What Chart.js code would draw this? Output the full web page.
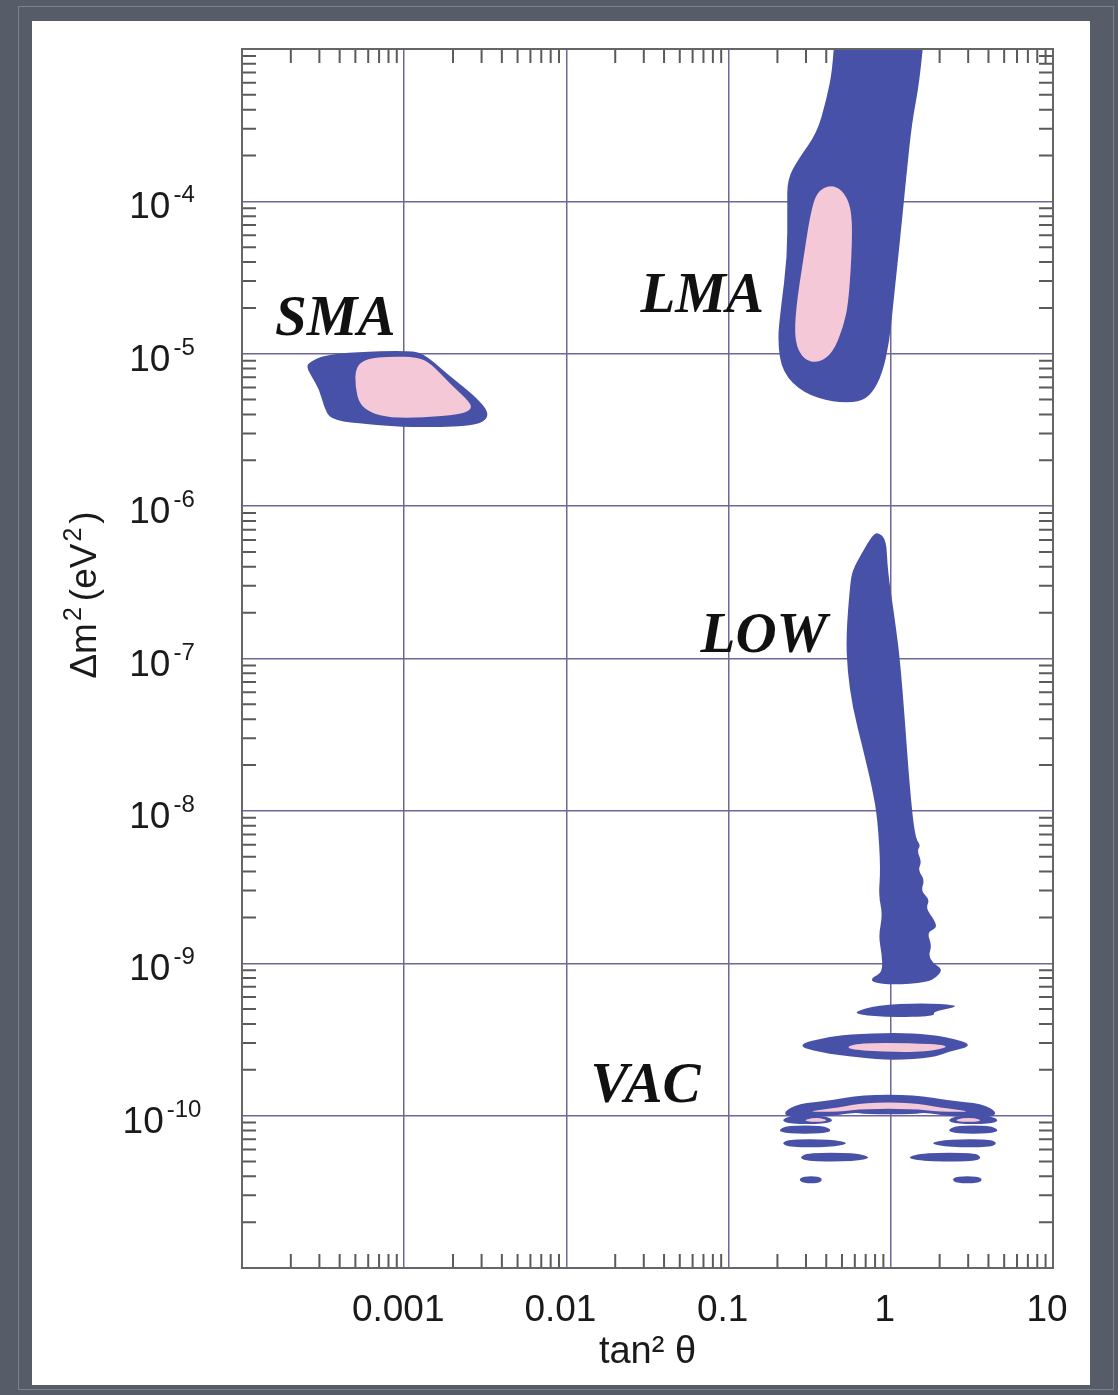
<!DOCTYPE html>
<html>
<head>
<meta charset="utf-8">
<script src="https://cdn.jsdelivr.net/npm/chart.js@4.4.1/dist/chart.umd.min.js"></script>
<style>
html, body { margin: 0; padding: 0; }
body { width: 1118px; height: 1395px; background: #565d69; position: relative; overflow: hidden; }
#frame { position: absolute; left: 18px; top: 6px; width: 1096px; height: 1384px; border: 1px solid #7d838e; box-sizing: border-box; }
#panel { position: absolute; left: 32px; top: 21px; width: 1058px; height: 1364px; background: #fff; }
canvas { display: block; }
</style>
</head>
<body>
<div id="frame"></div>
<div id="panel"><canvas id="chart" width="1058" height="1364" style="width:1058px;height:1364px"></canvas></div>
<script>
// axis ticks
const xTickValues = [1e-4, 1e-3, 1e-2, 1e-1, 1, 10];
const xTickLabels = ['', '0.001', '0.01', '0.1', '1', '10'];
const yGridValues = [1e-11, 1e-10, 1e-9, 1e-8, 1e-7, 1e-6, 1e-5, 1e-4, 1e-3];
const yLabelValues = [1e-10, 1e-9, 1e-8, 1e-7, 1e-6, 1e-5, 1e-4];
const yLabelExps = ['-10', '-9', '-8', '-7', '-6', '-5', '-4'];

// allowed regions, [tan^2 theta, delta m^2] outlines
const smaOuter = [[2.6e-4,8.8e-6],[3.2e-4,9.8e-6],[5.1e-4,1.03e-5],[9.8e-4,1.05e-5],[1.3e-3,1.02e-5],[1.8e-3,7.5e-6],[2.6e-3,5.5e-6],[3.2e-3,4.4e-6],[3.3e-3,3.8e-6],[2.8e-3,3.4e-6],[1.7e-3,3.3e-6],[9.8e-4,3.3e-6],[5.1e-4,3.5e-6],[3.5e-4,3.7e-6],[3.2e-4,4.5e-6],[3.0e-4,5.8e-6],[2.7e-4,7.0e-6],[2.5e-4,8.2e-6]];
const smaInner = [[5.0e-4,8.2e-6],[5.9e-4,9.3e-6],[8.2e-4,9.6e-6],[1.2e-3,9.5e-6],[1.45e-3,8.7e-6],[1.9e-3,6.4e-6],[2.55e-3,4.8e-6],[2.6e-3,4.3e-6],[2.2e-3,4.0e-6],[1.3e-3,3.8e-6],[8.2e-4,3.8e-6],[6.2e-4,4.1e-6],[5.3e-4,4.7e-6],[5.0e-4,6.0e-6]];
const lmaOuter = [[0.46,2e-3],[0.44,7.6e-4],[0.40,4.6e-4],[0.35,2.8e-4],[0.27,1.9e-4],[0.23,1.4e-4],[0.23,9.2e-5],[0.23,4.3e-5],[0.21,2.0e-5],[0.20,1.2e-5],[0.215,7.5e-6],[0.29,5.5e-6],[0.44,4.8e-6],[0.64,4.8e-6],[0.77,5.5e-6],[0.89,7.5e-6],[0.98,1.2e-5],[1.03,2.0e-5],[1.14,5.6e-5],[1.25,1.5e-4],[1.35,3.3e-4],[1.51,6.2e-4],[1.67,2e-3]];
const lmaInner = [[0.42,1.28e-4],[0.50,1.2e-4],[0.57,9.2e-5],[0.58,5.6e-5],[0.55,2.2e-5],[0.51,1.5e-5],[0.44,1.02e-5],[0.36,8.7e-6],[0.29,9.1e-6],[0.255,1.2e-5],[0.26,2.0e-5],[0.29,4.3e-5],[0.32,8.4e-5],[0.35,1.15e-4]];
const lowOuter = [[0.83,6.8e-7],[0.94,6.0e-7],[0.955,3.8e-7],[1.06,1.8e-7],[1.14,9.8e-8],[1.22,4.0e-8],[1.31,1.4e-8],[1.41,6.7e-9],[1.53,5.9e-9],[1.45,5.5e-9],[1.55,4.6e-9],[1.47,4.1e-9],[1.62,3.5e-9],[1.53,3.0e-9],[1.74,2.6e-9],[1.64,2.3e-9],[1.87,1.9e-9],[1.92,1.7e-9],[1.67,1.6e-9],[1.79,1.3e-9],[1.71,1.13e-9],[1.82,1.0e-9],[2.09,9.1e-10],[1.92,8.1e-10],[1.67,7.5e-10],[1.03,7.2e-10],[0.77,7.5e-10],[0.76,8.0e-10],[0.89,8.7e-10],[0.88,1.16e-9],[0.84,1.5e-9],[0.89,2.1e-9],[0.84,2.8e-9],[0.865,4.1e-9],[0.83,8.7e-9],[0.77,1.4e-8],[0.67,2.6e-8],[0.58,4.8e-8],[0.54,8.4e-8],[0.53,1.4e-7],[0.56,3.0e-7],[0.58,3.8e-7],[0.67,5.0e-7],[0.76,6.3e-7]];
const lowIsland = [[0.60,4.8e-10],[0.82,5.3e-10],[1.58,5.5e-10],[2.55,5.3e-10],[2.41,5.1e-10],[1.82,4.8e-10],[1.87,4.5e-10],[0.99,4.4e-10],[0.64,4.6e-10]];
const vacUpperOuter = [[0.26,2.9e-10],[0.40,3.3e-10],[0.64,3.45e-10],[1.31,3.5e-10],[2.21,3.3e-10],[3.30,2.9e-10],[2.21,2.6e-10],[1.82,2.4e-10],[1.03,2.3e-10],[0.64,2.4e-10],[0.36,2.6e-10]];
const vacUpperInner = [[0.52,2.8e-10],[0.64,3.0e-10],[1.31,3.0e-10],[2.31,2.9e-10],[2.0,2.7e-10],[1.31,2.6e-10],[0.64,2.67e-10]];
const vacArch = [[0.215,1.05e-10],[0.27,1.2e-10],[0.42,1.25e-10],[0.66,1.37e-10],[1.41,1.37e-10],[2.31,1.25e-10],[3.64,1.2e-10],[4.57,1.05e-10],[4.08,9.65e-11],[2.48,9.8e-11],[1.62,1.05e-10],[1.41,1.02e-10],[0.69,1.02e-10],[0.60,1.05e-10],[0.39,9.8e-11],[0.24,9.65e-11]];
const vacArchInner = [[0.29,1.06e-10],[0.48,1.13e-10],[0.69,1.22e-10],[1.35,1.22e-10],[2.0,1.13e-10],[3.30,1.06e-10],[2.0,1.06e-10],[1.35,1.11e-10],[0.69,1.11e-10],[0.48,1.06e-10]];
const vacStripes = [
  [[0.21,9.3e-11],[0.24,1.0e-10],[0.39,1.0e-10],[0.45,9.3e-11],[0.39,8.8e-11],[0.24,8.8e-11]],
  [[2.21,9.3e-11],[2.55,1.0e-10],[4.08,1.0e-10],[4.70,9.3e-11],[4.08,8.8e-11],[2.55,8.8e-11]],
  [[0.20,8.0e-11],[0.23,8.6e-11],[0.38,8.6e-11],[0.44,8.0e-11],[0.38,7.6e-11],[0.23,7.6e-11]],
  [[2.21,8.0e-11],[2.55,8.6e-11],[4.08,8.6e-11],[4.70,8.0e-11],[4.08,7.6e-11],[2.55,7.6e-11]],
  [[0.21,6.6e-11],[0.24,7.0e-11],[0.42,7.0e-11],[0.57,6.6e-11],[0.42,6.2e-11],[0.24,6.2e-11]],
  [[1.69,6.6e-11],[2.31,7.0e-11],[4.08,7.0e-11],[4.57,6.6e-11],[4.08,6.2e-11],[2.31,6.2e-11]],
  [[0.27,5.3e-11],[0.31,5.7e-11],[0.60,5.7e-11],[0.77,5.3e-11],[0.60,5.0e-11],[0.31,5.0e-11]],
  [[1.22,5.3e-11],[1.62,5.7e-11],[3.30,5.7e-11],[3.64,5.3e-11],[3.30,5.0e-11],[1.62,5.0e-11]],
  [[0.27,3.8e-11],[0.29,4.0e-11],[0.36,4.0e-11],[0.38,3.8e-11],[0.36,3.6e-11],[0.29,3.6e-11]],
  [[2.38,3.8e-11],[2.55,4.0e-11],[3.44,4.0e-11],[3.69,3.8e-11],[3.44,3.6e-11],[2.55,3.6e-11]]
];
const vacSpots = [
  [[0.29,9.3e-11],[0.325,9.65e-11],[0.37,9.65e-11],[0.41,9.3e-11],[0.37,9.1e-11],[0.325,9.1e-11]],
  [[2.48,9.3e-11],[2.74,9.65e-11],[3.30,9.65e-11],[3.64,9.3e-11],[3.30,9.1e-11],[2.74,9.1e-11]]
];

// region names, placed at [tan^2 theta, delta m^2]
const regionNames = ['SMA', 'LMA', 'LOW', 'VAC'];
const nameX = [1.6e-4, 0.0286, 0.0672, 0.0141];
const nameY = [1.33e-5, 1.88e-5, 1.10e-7, 1.23e-10];

const BLUE = '#4851a8';
const PINK = '#f5c8d7';
const SANS = '"Liberation Sans", Arial, sans-serif';

function region(pts, color) {
    return {
        data: pts.map(p => ({x: p[0], y: p[1]})),
        backgroundColor: color,
        showLine: false,
        pointRadius: 0,
        pointHoverRadius: 0
    };
}

const datasets = [
    region(smaOuter, BLUE), region(smaInner, PINK),
    region(lmaOuter, BLUE), region(lmaInner, PINK),
    region(lowOuter, BLUE), region(lowIsland, BLUE),
    region(vacUpperOuter, BLUE), region(vacUpperInner, PINK),
    region(vacArch, BLUE), region(vacArchInner, PINK),
    ...vacStripes.map(s => region(s, BLUE)),
    ...vacSpots.map(s => region(s, PINK))
];

// draws a row of text pieces [text, size, rise, gapAfter] starting at x0
function drawPieces(ctx, pieces, x0, y0) {
    let cx = x0;
    pieces.forEach(p => {
        ctx.font = p[1] + 'px ' + SANS;
        ctx.fillText(p[0], cx, y0 + p[2]);
        cx += ctx.measureText(p[0]).width + p[3];
    });
}
function piecesWidth(ctx, pieces) {
    let w = 0;
    pieces.forEach((p, i) => {
        ctx.font = p[1] + 'px ' + SANS;
        w += ctx.measureText(p[0]).width + (i < pieces.length - 1 ? p[3] : 0);
    });
    return w;
}

// fills each dataset as a closed smoothed outline, plus inner ticks, frame and labels
const contourPlugin = {
    id: 'contours',
    beforeDatasetsDraw(chart) {
        const {ctx, chartArea: a, scales: {x, y}} = chart;
        ctx.save();
        ctx.strokeStyle = '#5a5a5a';
        ctx.lineWidth = 2;
        ctx.beginPath();
        for (let d = -4; d < 1; d++) {
            for (let m = 2; m <= 9; m++) {
                const px = x.getPixelForValue(m * Math.pow(10, d));
                ctx.moveTo(px, a.bottom); ctx.lineTo(px, a.bottom - 14);
                ctx.moveTo(px, a.top); ctx.lineTo(px, a.top + 14);
            }
        }
        for (let d = -11; d < -3; d++) {
            for (let m = 2; m <= 9; m++) {
                const py = y.getPixelForValue(m * Math.pow(10, d));
                ctx.moveTo(a.left, py); ctx.lineTo(a.left + 14, py);
                ctx.moveTo(a.right, py); ctx.lineTo(a.right - 14, py);
            }
        }
        ctx.stroke();

        ctx.beginPath();
        ctx.rect(a.left, a.top, a.width, a.height);
        ctx.clip();
        chart.data.datasets.forEach((ds, i) => {
            const pts = chart.getDatasetMeta(i).data;
            const n = pts.length;
            ctx.fillStyle = ds.backgroundColor;
            ctx.beginPath();
            const last = pts[n - 1];
            ctx.moveTo((last.x + pts[0].x) / 2, (last.y + pts[0].y) / 2);
            for (let j = 0; j < n; j++) {
                const p = pts[j], q = pts[(j + 1) % n];
                ctx.quadraticCurveTo(p.x, p.y, (p.x + q.x) / 2, (p.y + q.y) / 2);
            }
            ctx.closePath();
            ctx.fill();
        });
        ctx.restore();
    },
    afterDraw(chart) {
        const {ctx, chartArea: a, scales: {x, y}} = chart;
        ctx.save();
        ctx.strokeStyle = '#666';
        ctx.lineWidth = 2;
        ctx.strokeRect(a.left, a.top, a.width, a.height);

        // y tick labels 10^-n
        ctx.fillStyle = '#1a1a1a';
        ctx.textBaseline = 'alphabetic';
        ctx.textAlign = 'left';
        yLabelValues.forEach((v, i) => {
            const py = y.getPixelForValue(v);
            const pieces = [['10', 37, 17, 3], [yLabelExps[i], 24, 1, 0]];
            const w = piecesWidth(ctx, pieces);
            drawPieces(ctx, pieces, 130 - w / 2, py);
        });

        // y axis title, rotated
        const title = [['\u0394m', 37, 0, 2], ['2', 25, -15, 6], ['(eV', 37, 0, 2], ['2', 25, -15, 4], [')', 37, 0, 0]];
        const tw = piecesWidth(ctx, title);
        ctx.translate(64, 574);
        ctx.rotate(-Math.PI / 2);
        drawPieces(ctx, title, -tw / 2, 0);
        ctx.restore();

        // region names
        ctx.save();
        ctx.fillStyle = '#111';
        ctx.font = 'italic bold 57px "Liberation Serif", "Times New Roman", serif';
        ctx.textBaseline = 'alphabetic';
        regionNames.forEach((t, i) => {
            ctx.fillText(t, x.getPixelForValue(nameX[i]), y.getPixelForValue(nameY[i]));
        });
        ctx.restore();
    }
};

const gridColor = '#6f6799';

new Chart(document.getElementById('chart'), {
    type: 'scatter',
    data: {datasets},
    plugins: [contourPlugin],
    options: {
        responsive: false,
        animation: false,
        events: [],
        layout: {padding: {left: 38, top: 28, right: 37, bottom: 0}},
        plugins: {
            legend: {display: false},
            tooltip: {enabled: false}
        },
        scales: {
            x: {
                type: 'logarithmic',
                position: 'bottom',
                min: 1e-4,
                max: 10,
                afterBuildTicks: s => { s.ticks = xTickValues.map(v => ({value: v})); },
                afterFit: s => { s.height = 117; s.paddingLeft = 0; s.paddingRight = 0; },
                grid: {color: gridColor, lineWidth: 1.5, drawTicks: false},
                border: {display: false},
                ticks: {
                    callback: (v, i) => xTickLabels[i],
                    autoSkip: false,
                    maxRotation: 0,
                    padding: 21,
                    labelOffset: -6,
                    color: '#1a1a1a',
                    font: {family: SANS, size: 37}
                },
                title: {
                    display: true,
                    text: 'tan\u00b2 \u03b8',
                    color: '#1a1a1a',
                    font: {family: SANS, size: 38},
                    padding: {top: 0, bottom: 10}
                }
            },
            y: {
                type: 'logarithmic',
                min: 1e-11,
                max: 1e-3,
                afterBuildTicks: s => { s.ticks = yGridValues.map(v => ({value: v})); },
                afterFit: s => { s.width = 172; s.paddingTop = 0; s.paddingBottom = 0; },
                grid: {color: gridColor, lineWidth: 1.5, drawTicks: false},
                border: {display: false},
                ticks: {display: false}
            }
        }
    }
});
</script>
</body>
</html>
